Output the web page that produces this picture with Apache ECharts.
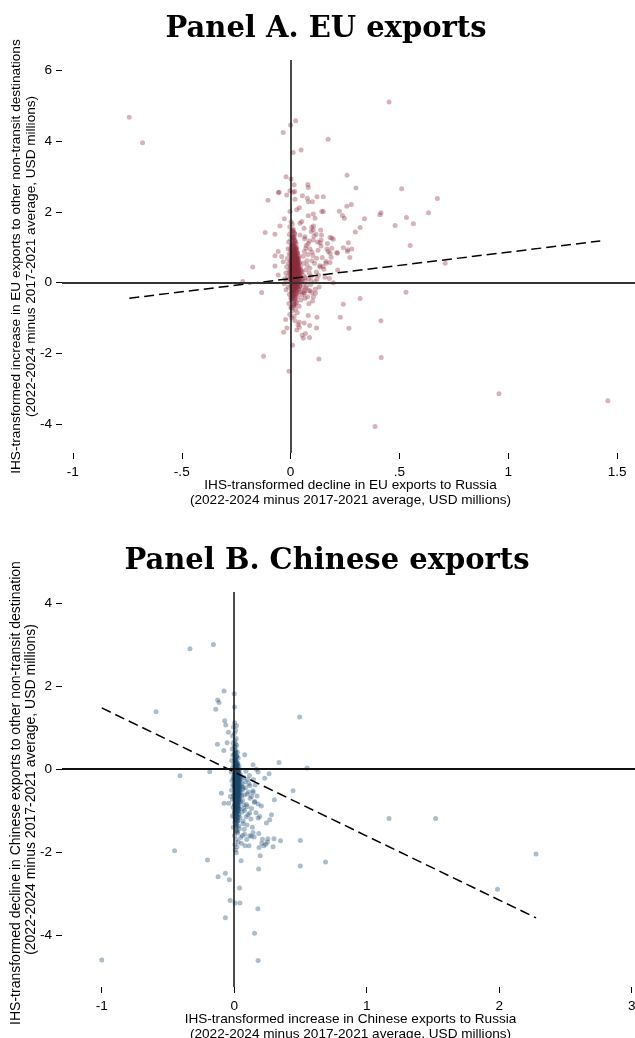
<!DOCTYPE html>
<html>
<head>
<meta charset="utf-8">
<script src="https://cdn.jsdelivr.net/npm/echarts@6/dist/echarts.min.js"></script>
<style>
  html, body { margin: 0; padding: 0; background: #fff; overflow: hidden; }
  body { width: 635px; height: 1038px; position: relative; }
  #panelA { position: absolute; left: 0; top: 0; width: 640px; height: 1038px; }
  #panelB { position: absolute; left: 0; top: 562px; width: 640px; height: 476px; }
</style>
</head>
<body>
<div id="panelA"></div>
<div id="panelB"></div>
<script>
// ---------- Panel A: EU exports ----------
const xTicksA = [-1, -0.5, 0, 0.5, 1, 1.5];
const xTickLabelsA = ['-1', '-.5', '0', '.5', '1', '1.5'];
const yTicksA = [-4, -2, 0, 2, 4, 6];
const yTickLabelsA = ['-4', '-2', '0', '2', '4', '6'];

// [decline in exports to Russia, increase in exports to other destinations]
const euOutliers = [
  [-0.741,4.68],[-0.680,3.96],[-0.034,4.25],[0.023,4.58],[0.000,4.46],[0.012,3.68],[0.048,3.75],[-0.021,3.00],
  [0.002,2.93],[-0.056,2.55],[-0.104,2.33],[-0.117,1.42],[-0.174,0.44],[-0.220,0.03],[-0.133,-0.28],
  [0.452,5.11],[0.172,4.06],[0.259,3.04],[0.300,2.68],[0.510,2.66],[0.674,2.38],[0.633,1.98],[0.532,1.84],
  [0.564,1.67],[0.480,1.62],[0.410,1.92],[0.415,1.98],[0.339,1.81],[0.279,2.21],[0.258,2.16],[0.224,2.02],
  [0.238,1.90],[0.247,1.82],[0.319,1.56],[0.297,1.43],[0.549,1.05],[0.710,0.55],[0.265,1.13],[0.242,0.99],
  [0.281,0.95],[0.272,0.71],[0.189,1.26],[0.196,1.23],[0.212,0.85],[0.181,0.83],[0.216,0.36],[0.178,0.12],
  [0.196,0.00],[0.530,-0.27],[0.319,-0.45],[0.242,-0.61],
  [0.079,2.78],[0.081,2.69],[0.121,2.43],[0.150,2.43],[0.081,2.29],[0.100,2.29],[0.054,2.46],[0.143,2.01],
  [0.016,2.77],[0.019,2.58],[0.040,2.12],[0.043,1.68],
  [0.228,-0.98],[0.415,-1.08],[0.268,-1.29],[0.121,-0.98],[0.081,-0.93],[0.087,-1.21],[0.062,-1.14],[0.040,-1.12],
  [0.034,-1.19],[0.119,-1.28],[0.053,-1.49],[0.068,-1.44],[0.087,-1.55],[-0.023,-1.04],[-0.032,-1.40],[-0.017,-1.28],
  [0.009,-1.77],[-0.124,-2.08],[0.130,-2.16],[0.416,-2.12],[-0.008,-2.51],[0.957,-3.14],[1.457,-3.34],[0.388,-4.07],
  [-0.053,2.56],[-0.018,2.48],[0.012,2.56],[-0.003,2.60],[0.020,2.36],[0.077,2.39],[0.028,2.06],[-0.003,2.01],
  [0.104,1.94],[0.081,1.89],[0.112,1.82],[0.150,2.01],[-0.029,1.81],[-0.049,1.60],[-0.072,1.37],
  [0.051,1.73],[0.062,1.54],[0.043,1.35],[0.066,1.30],[0.097,1.57],[0.104,1.49],[0.117,1.37],[0.138,1.49],
  [0.140,1.21],[0.104,1.21],[0.081,1.11],[0.181,1.28],[0.135,1.13],[0.169,1.11],[0.189,0.97],[0.173,0.88],
  [0.215,0.83],[0.262,0.93],
  [0.020,-1.08],[0.040,-1.26],[0.028,-1.34],[0.058,-1.57],[0.104,-0.40],[0.097,-0.28],[0.089,-0.23],[0.114,-0.19],
  [0.066,-0.44],[0.062,-0.30],[0.261,0.88],[0.186,0.72],[0.163,0.55],[0.181,0.57],[0.135,0.44],
  [-0.072,0.47],[-0.057,0.22],[-0.034,0.59],[-0.041,0.74],[-0.072,0.76],[-0.057,0.88]
];

const euCluster = [
  [0.002,1.72],[0.008,1.65],[-0.004,1.58],[0.012,1.51],[0.003,1.46],[0.018,1.40],[-0.006,1.36],[0.006,1.31],
  [0.014,1.27],[0.001,1.22],[0.021,1.18],[-0.009,1.15],[0.009,1.11],[0.016,1.06],[0.004,1.02],[0.026,0.99],
  [-0.012,0.96],[0.011,0.93],[0.019,0.90],[0.002,0.87],[0.031,0.84],[-0.007,0.81],[0.014,0.78],[0.024,0.76],
  [0.005,0.73],[0.036,0.70],[-0.015,0.68],[0.009,0.66],[0.020,0.63],[0.028,0.61],[0.001,0.59],[0.041,0.57],
  [-0.010,0.55],[0.016,0.53],[0.033,0.51],[0.006,0.49],[0.024,0.47],[-0.018,0.45],[0.046,0.44],[0.012,0.42],
  [0.029,0.40],[0.003,0.38],[0.038,0.37],[-0.008,0.35],[0.019,0.33],[0.052,0.32],[0.008,0.30],[0.027,0.28],
  [-0.022,0.27],[0.043,0.25],[0.014,0.24],[0.034,0.22],[0.001,0.21],[0.060,0.20],[-0.013,0.18],[0.022,0.17],
  [0.048,0.15],[0.007,0.14],[0.031,0.12],[-0.026,0.11],[0.055,0.10],[0.017,0.09],[0.039,0.07],[0.003,0.06],
  [0.067,0.05],[-0.017,0.04],[0.026,0.03],[0.045,0.01],[0.010,0.00],[0.034,-0.02],[-0.030,-0.03],[0.058,-0.04],
  [0.019,-0.06],[0.041,-0.07],[0.002,-0.09],[0.072,-0.10],[-0.011,-0.12],[0.028,-0.13],[0.050,-0.15],[0.009,-0.17],
  [0.036,-0.19],[-0.021,-0.20],[0.063,-0.22],[0.015,-0.24],[0.044,-0.26],[0.004,-0.28],[0.025,-0.30],[-0.006,-0.33],
  [0.053,-0.35],[0.012,-0.37],[0.033,-0.40],[0.001,-0.43],[0.020,-0.46],[0.047,-0.49],[0.006,-0.52],[0.028,-0.56],
  [-0.008,-0.59],[0.014,-0.63],[0.039,-0.67],[0.003,-0.71],[0.022,-0.75],[0.009,-0.80],[0.031,-0.85],[-0.004,-0.90],
  [0.016,-0.95],[0.005,-1.00],
  [0.005,0.52],[0.021,0.36],[0.011,0.19],[0.032,0.08],[0.015,-0.01],[0.007,-0.14],[0.024,-0.21],[0.040,0.16],
  [0.018,0.27],[0.003,0.43],[0.029,0.55],[0.012,0.68],[0.035,0.31],[0.008,0.11],[0.026,-0.08],[0.013,-0.32],
  [0.044,0.04],[0.020,0.48],[0.001,0.62],[0.037,0.43],[0.016,0.15],[0.010,-0.04],[0.030,0.20],[0.023,0.71],
  [0.006,0.25],[0.049,0.28],[0.017,-0.18],[0.004,0.34],[0.027,0.13],[0.042,-0.11],[0.013,0.58],[0.035,0.64],
  [0.009,0.83],[0.022,0.95],[0.003,1.08],[0.018,1.21],[0.030,0.86],[0.011,0.39],[0.038,-0.27],[0.021,-0.42],
  [0.015,-0.65],[0.032,0.02],[0.007,0.70],[0.025,0.41],[0.046,0.35],[0.002,0.16],[0.019,0.06],[0.036,0.50],
  [0.012,-0.24],[0.028,0.25],[0.051,0.06],[-0.003,0.29],[0.016,0.45],[0.040,0.23],[0.024,0.10],[0.008,-0.06],
  [0.033,0.37],[0.011,0.27],[0.027,0.60],[0.004,0.09],[0.020,0.22],[0.043,0.12],[0.014,0.34],[0.031,-0.15],
  [0.006,-0.36],[0.023,0.00],[0.017,0.80],[0.038,0.75],[0.010,1.00],[0.026,1.10],
  [0.004,0.05],[0.013,0.12],[0.021,0.02],[0.009,0.22],[0.017,0.31],[0.002,0.40],[0.026,0.18],[0.011,-0.02],
  [0.019,0.44],[0.006,0.57],[0.031,0.33],[0.014,0.65],[0.023,0.08],[0.001,0.26],[0.028,-0.05],[0.010,0.50],
  [0.035,0.14],[0.016,0.37],[0.005,0.72],[0.024,0.58],[0.012,-0.10],[0.029,0.45],[0.003,0.15],[0.020,0.28],
  [0.008,0.84],[0.033,0.62],[0.015,0.04],[0.000,0.48],[0.025,0.38],[0.011,0.92],[0.018,-0.22],[0.007,0.33],
  [0.037,0.05],[0.013,0.75],[0.022,0.51],[-0.002,0.10],[0.030,0.26],[0.016,0.63],[0.006,-0.30],[0.027,0.70],
  [0.010,0.16],[0.019,1.02],[0.004,0.61],[0.032,-0.12],[0.015,0.47],[0.023,0.35],[0.009,-0.45],[0.039,0.30],
  [0.017,0.88],[0.001,0.78],[0.026,-0.25],[0.012,0.31],[0.021,1.15],[0.007,0.44],[0.034,0.52],[0.014,-0.38],
  [0.003,0.97],[0.028,0.09],[0.018,0.19],[0.010,1.25],[0.024,-0.52],[0.005,-0.18],[0.031,0.80],[0.016,-0.60],
  [0.008,1.35],[0.020,0.67],[0.013,1.45],[0.027,0.42],[0.002,-0.70],[0.036,0.21],[0.011,0.07],[0.022,-0.35],
  [0.006,0.39],[0.029,0.57],[0.017,0.24],[0.009,1.18],[0.040,0.40],[0.014,0.83],[0.025,0.29],[0.003,0.53],
  [0.019,-0.08],[0.032,0.46],[0.008,0.02],[0.015,0.69],[0.023,0.96],[0.001,0.34],[0.028,0.13],[0.012,0.55],
  [0.036,-0.03],[0.018,0.41],[0.005,0.90],[0.021,0.23],[0.010,-0.27],[0.030,0.66],[0.016,0.11],[0.007,1.07],
  [0.026,0.49],[0.013,0.29],[0.003,-0.48],[0.034,0.36],[0.020,0.74],[0.009,0.60],[0.024,-0.15],[0.015,0.20],
  [0.038,0.55],[0.011,0.45],[0.019,0.87],[0.006,0.07],[0.029,0.32],[0.017,1.30],
  [0.007,0.18],[0.016,0.09],[0.024,0.26],[0.003,0.31],[0.012,0.47],[0.028,0.36],[0.019,0.55],[0.009,0.03],
  [0.031,0.15],[0.014,0.22],[0.005,0.64],[0.022,0.43],[0.011,0.79],[0.027,0.06],[0.017,0.34],[0.001,0.12],
  [0.033,0.27],[0.020,0.61],[0.008,0.40],[0.025,0.92],[0.013,-0.03],[0.004,0.50],[0.029,0.72],[0.018,0.17],
  [0.010,0.70],[0.035,0.40],[0.021,-0.12],[0.006,0.82],[0.015,0.56],[0.026,0.21],[0.012,1.05],[0.002,0.23],
  [0.030,-0.02],[0.019,0.77],[0.008,0.46],[0.023,0.33],[0.014,-0.20],[0.038,0.18],[0.010,0.58],[0.027,0.52],
  [0.005,-0.08],[0.017,0.98],[0.032,0.69],[0.013,0.37],[0.021,0.14],[0.003,0.68],[0.025,-0.32],[0.016,1.12],
  [0.009,0.26],[0.034,0.09],[0.019,0.49],[0.006,-0.40],[0.028,0.85],[0.012,0.16],[0.022,0.62],[0.001,0.93],
  [0.036,0.32],[0.015,-0.50],[0.024,0.04],[0.010,0.35],[0.018,1.38],[0.007,0.76],[0.031,0.44],[0.014,0.01],
  [0.026,0.66],[0.004,-0.22],[0.020,0.38],[0.011,1.28],[0.029,0.24],[0.016,-0.13],[0.008,0.54],[0.023,0.81],
  [0.013,0.19],[0.033,0.58],[0.002,0.45],[0.021,-0.62],[0.017,0.07],[0.027,0.97],[0.009,1.48],[0.015,0.30],
  [0.075,0.62],[0.088,0.41],[0.063,0.88],[0.095,0.18],[0.081,-0.22],[0.110,0.55],[0.072,1.05],[0.102,0.77],
  [0.092,-0.05],[0.118,0.30],[0.069,0.36],[0.085,1.18],[0.126,0.92],[0.078,-0.40],[0.098,0.62],[0.134,0.48],
  [0.066,0.14],[0.107,1.32],[0.145,0.71],[0.089,0.95],[0.059,0.55],[0.121,0.10],[0.079,0.80],[0.153,0.38],
  [0.095,1.45],[0.070,-0.15],[0.114,-0.30],[0.140,1.04],[0.162,0.60],[0.086,0.27],[0.101,-0.52],[0.128,0.21],
  [0.167,0.95],[0.058,0.75],[0.093,0.05],[0.076,0.49],[0.119,0.69],[0.105,1.60],[0.142,1.35],[0.061,-0.28],
  [0.084,-0.60],[0.131,-0.12],[0.070,0.97],[0.112,0.03],[0.158,0.15],[0.064,1.24],[0.098,0.87],[0.149,0.46],
  [0.082,0.12],[0.124,1.15]
];

// fitted regression line (end points)
const euFit = [[-0.741, -0.44], [1.422, 1.18]];

// ---------- Panel B: Chinese exports ----------
const xTicksB = [-1, 0, 1, 2, 3];
const xTickLabelsB = ['-1', '0', '1', '2', '3'];
const yTicksB = [-4, -2, 0, 2, 4];
const yTickLabelsB = ['-4', '-2', '0', '2', '4'];

const cnOutliers = [
  [-0.334,2.91],[-0.157,3.01],[-0.077,1.89],[-0.125,1.67],[-0.115,1.61],[-0.140,1.45],[-0.590,1.39],[0.000,1.82],
  [0.002,1.50],[0.494,1.26],[0.338,0.16],[0.550,0.03],[-0.409,-0.16],[-0.185,-0.06],[-0.127,0.60],[-0.072,1.17],
  [-0.064,1.07],[0.017,1.05],[-0.044,0.89],[-0.054,0.64],[-0.079,0.45],[0.142,0.11],[0.167,0.00],[0.079,0.35],
  [0.180,-0.07],[0.230,-0.22],[0.263,-0.11],[0.303,-0.74],[0.444,-0.52],[1.168,-1.19],[1.520,-1.19],[0.499,-1.72],
  [0.349,-1.73],[0.300,-1.68],[0.254,-1.68],[0.239,-1.81],[0.208,-1.79],
  [-0.450,-1.97],[-0.202,-2.19],[0.052,-2.21],[0.196,-2.09],[0.689,-2.24],[0.499,-2.34],[0.184,-2.41],[2.278,-2.05],
  [1.987,-2.90],[-0.067,-2.51],[-0.122,-2.60],[-0.037,-2.67],[0.040,-2.87],[-0.031,-3.17],[0.006,-3.23],[0.043,-3.23],
  [0.178,-3.37],[-0.067,-3.59],[0.153,-3.96],[0.180,-4.62],[-1.000,-4.61],
  [-0.097,-0.58],[-0.077,-0.82],[-0.042,-0.82],[-0.029,-0.66],[0.180,-0.84],[0.205,-0.89],[0.155,-0.78],[0.130,-0.66],
  [0.142,-0.56],[0.281,-1.10],[0.268,-1.22],[0.243,-1.30],[0.192,-1.14],[0.180,-1.18],[0.117,-1.06],[0.142,-1.53],
  [0.185,-1.55],[0.117,-1.61],[0.150,-1.64],[0.079,-1.57],[0.213,-1.69],[0.250,-1.76],[0.187,-1.89],[0.223,-1.85],
  [0.293,-1.87],[0.054,-1.79]
];

const cnCluster = [
  [0.003,1.12],[-0.006,1.02],[0.010,0.94],[0.001,0.86],[-0.012,0.80],[0.015,0.74],[0.004,0.69],[-0.008,0.63],
  [0.019,0.58],[0.007,0.53],[-0.015,0.49],[0.012,0.45],[0.024,0.41],[0.000,0.37],[-0.010,0.34],[0.017,0.30],
  [0.030,0.27],[0.005,0.24],[-0.019,0.21],[0.013,0.18],[0.027,0.15],[-0.004,0.12],[0.021,0.10],[0.036,0.07],
  [0.008,0.05],[-0.014,0.03],[0.016,0.01],[0.041,-0.01],[0.002,-0.03],[0.025,-0.05],[-0.023,-0.07],[0.011,-0.09],
  [0.034,-0.11],[0.047,-0.13],[0.006,-0.15],[0.020,-0.17],[-0.008,-0.19],[0.029,-0.21],[0.053,-0.23],[0.014,-0.25],
  [-0.017,-0.27],[0.038,-0.29],[0.003,-0.31],[0.023,-0.33],[0.060,-0.35],[0.010,-0.37],[-0.011,-0.39],[0.031,-0.41],
  [0.045,-0.43],[0.001,-0.45],[0.018,-0.47],[0.066,-0.49],[-0.020,-0.51],[0.027,-0.53],[0.008,-0.55],[0.040,-0.57],
  [0.015,-0.60],[-0.006,-0.62],[0.056,-0.64],[0.022,-0.66],[0.004,-0.69],[0.034,-0.71],[-0.014,-0.73],[0.012,-0.76],
  [0.048,-0.78],[0.026,-0.81],[0.002,-0.84],[0.071,-0.86],[0.017,-0.89],[-0.009,-0.92],[0.038,-0.95],[0.009,-0.98],
  [0.027,-1.01],[0.058,-1.04],[0.001,-1.07],[0.020,-1.10],[-0.013,-1.13],[0.043,-1.16],[0.011,-1.20],[0.031,-1.24],
  [0.004,-1.28],[0.066,-1.32],[0.018,-1.36],[-0.007,-1.40],[0.037,-1.44],[0.009,-1.49],[0.025,-1.54],[0.002,-1.60],
  [0.048,-1.65],[0.014,-1.70],[0.030,-1.76],[0.005,-1.82],[0.021,-1.88],[0.008,-1.95],[0.016,-2.02],
  [0.008,-0.20],[0.019,-0.35],[0.004,-0.08],[0.027,-0.45],[0.012,-0.58],[0.035,-0.26],[0.002,-0.52],[0.022,-0.68],
  [0.015,0.08],[0.030,-0.14],[0.006,-0.40],[0.041,-0.50],[0.017,-0.80],[0.010,0.20],[0.025,0.02],[-0.003,-0.25],
  [0.033,-0.62],[0.013,-0.95],[0.020,-0.30],[0.045,-0.18],[0.007,-0.70],[0.028,-0.88],[0.016,-0.12],[0.003,0.28],
  [0.036,-0.38],[0.011,-0.46],[0.024,-0.75],[0.050,-0.55],[0.009,0.00],[0.019,-1.05],[0.032,-0.05],[0.005,-0.85],
  [0.038,-0.80],[0.014,-0.33],[0.026,0.12],[0.001,-0.62],[0.043,-0.30],[0.018,-0.54],[0.029,-1.15],[0.012,0.40],
  [0.034,-0.96],[0.007,-1.22],[0.023,-0.22],[0.015,-0.42],[0.039,-0.66],[0.004,0.15],[0.021,-0.90],[0.055,-0.40],
  [0.010,-0.28],[0.031,-0.72],
  [0.004,-0.10],[0.013,-0.22],[0.021,-0.05],[0.009,-0.38],[0.017,-0.47],[0.002,-0.15],[0.026,-0.30],[0.011,-0.60],
  [0.019,-0.12],[0.006,-0.52],[0.031,-0.40],[0.014,-0.70],[0.023,-0.18],[0.001,-0.35],[0.028,-0.62],[0.010,-0.08],
  [0.035,-0.25],[0.016,-0.82],[0.005,-0.45],[0.024,-0.55],[0.012,0.02],[0.029,-0.78],[0.003,-0.28],[0.020,-0.42],
  [0.008,-0.90],[0.033,-0.15],[0.015,-0.58],[0.000,-0.20],[0.025,-0.92],[0.011,-0.33],[0.018,0.10],[0.007,-0.65],
  [0.037,-0.48],[0.013,-1.00],[0.022,-0.27],[-0.002,-0.40],[0.030,-0.08],[0.016,-0.37],[0.006,0.05],[0.027,-0.70],
  [0.010,-0.75],[0.019,-1.12],[0.004,-0.58],[0.032,-0.32],[0.015,-0.16],[0.023,-0.85],[0.009,0.22],[0.039,-0.60],
  [0.017,-0.98],[0.001,-0.72],[0.026,-0.02],[0.012,-0.48],[0.021,-1.25],[0.007,-0.23],[0.034,-0.86],[0.014,0.15],
  [0.003,-0.96],[0.028,-0.44],[0.018,-0.64],[0.010,-1.30],[0.024,0.08],[0.005,-0.32],[0.031,-1.02],[0.016,0.30],
  [0.008,-1.18],[0.020,-0.52],[0.013,-1.40],[0.027,-0.20],[0.002,0.35],[0.036,-0.74],[0.011,-0.12],[0.022,-0.66],
  [0.006,-0.80],[0.029,-0.35],[0.017,-0.26],[0.009,-1.08],[0.040,-0.22],[0.014,-0.90],[0.025,-0.48],[0.003,0.45],
  [0.019,-0.76],[0.032,-0.56],[0.008,-0.44],[0.015,-1.22],[0.023,-0.10],[0.001,0.55],[0.028,-0.96],[0.012,-0.30],
  [0.036,-0.40],[0.018,-0.04],
  [0.007,-0.18],[0.016,-0.09],[0.024,-0.36],[0.003,-0.41],[0.012,-0.27],[0.028,-0.56],[0.019,-0.65],[0.009,-0.03],
  [0.031,-0.25],[0.014,-0.12],[0.005,-0.74],[0.022,-0.43],[0.011,-0.89],[0.027,-0.16],[0.017,-0.54],[0.001,-0.12],
  [0.033,-0.47],[0.020,-0.81],[0.008,-0.50],[0.025,-1.02],[0.013,0.03],[0.004,-0.60],[0.029,-0.52],[0.018,-0.37],
  [0.010,-0.68],[0.035,-0.30],[0.021,0.02],[0.006,-1.02],[0.015,-0.76],[0.026,-0.41],[0.012,-1.15],[0.002,-0.23],
  [0.030,-0.92],[0.019,-0.87],[0.008,-0.36],[0.023,-0.63],[0.014,0.20],[0.038,-0.68],[0.010,-0.48],[0.027,-0.82],
  [0.005,0.08],[0.017,-1.08],[0.032,-0.19],[0.013,-0.67],[0.021,-0.34],[0.003,-0.88],[0.025,-0.28],[0.016,-1.32],
  [0.009,-0.26],[0.034,-1.09],[0.019,-0.49],[0.006,0.40],[0.028,-0.05],[0.012,-0.86],[0.022,-0.92],[0.001,-1.03],
  [0.036,-0.12],[0.015,-0.50],[0.024,-0.64],[0.010,-0.15],[0.018,-1.48],[0.007,-0.36],[0.031,-0.64],[0.014,-0.41],
  [0.026,-1.26],[0.004,0.22],[0.020,-0.18],[0.011,-1.38],[0.029,-0.44],[0.016,0.13],[0.008,-0.64],[0.023,-1.51],
  [0.013,-0.19],[0.033,-1.38],[0.002,-1.15],[0.021,0.32],[0.017,-0.07],[0.027,-1.17],[0.009,0.62],[0.015,-0.30],
  [0.072,-0.20],[0.085,-0.45],[0.063,-0.75],[0.098,-0.60],[0.078,-1.00],[0.110,-0.35],[0.092,-0.85],[0.068,-1.25],
  [0.120,-0.70],[0.104,-1.10],[0.083,-0.30],[0.131,-0.95],[0.075,-1.45],[0.115,-0.15],[0.142,-0.52],[0.096,-1.35],
  [0.061,-1.60],[0.126,-1.20],[0.088,-0.05],[0.152,-0.80],[0.107,-0.55],[0.070,-0.95],[0.137,-1.40],[0.094,-1.70],
  [0.118,-0.40],[0.164,-1.05],[0.081,-1.85],[0.102,-0.25],[0.145,-0.25],[0.077,-0.62],[0.128,-1.62],[0.158,-0.38],
  [0.090,-1.15],[0.112,-1.85],[0.066,-0.45],[0.172,-0.65],[0.099,-0.90]
];

const cnFit = [[-1.0, 1.48], [2.278, -3.59]];

// ---------- shared styling ----------
const SANS = '"Liberation Sans", Arial, sans-serif';
const AXIS_FONT = 13.6;

function tickLabel(ticks, labels) {
  return function (v) {
    for (let i = 0; i < ticks.length; i++) {
      if (Math.abs(ticks[i] - v) < 1e-9) return labels[i];
    }
    return '';
  };
}

function xAxisCfg(min, max, ticks, labels, name) {
  return {
    type: 'value', min: min, max: max,
    axisLine: { show: false, onZero: false },
    splitLine: { show: false },
    axisTick: { show: true, length: 6, customValues: ticks, lineStyle: { color: '#000', width: 1 } },
    axisLabel: { customValues: ticks, formatter: tickLabel(ticks, labels), margin: 12,
                 color: '#000', fontSize: AXIS_FONT, fontFamily: SANS },
    name: name, nameLocation: 'middle', nameGap: 25, nameMoveOverlap: false,
    nameTextStyle: { color: '#000', fontSize: AXIS_FONT, fontFamily: SANS, lineHeight: 14.5 }
  };
}

function yAxisCfg(min, max, ticks, labels, name, nameSize) {
  return {
    type: 'value', min: min, max: max,
    axisLine: { show: false, onZero: false },
    splitLine: { show: false },
    axisTick: { show: true, length: 6, customValues: ticks, lineStyle: { color: '#000', width: 1 } },
    axisLabel: { customValues: ticks, formatter: tickLabel(ticks, labels), margin: 10,
                 color: '#000', fontSize: AXIS_FONT, fontFamily: SANS },
    name: name, nameLocation: 'middle', nameGap: 23, nameMoveOverlap: false,
    nameTextStyle: { color: '#000', fontSize: nameSize, fontFamily: SANS, lineHeight: 15.5 }
  };
}

function panelSeries(points, fit, color, hLineColor) {
  return [
    { // zero reference lines
      type: 'scatter', data: [], silent: true, z: 1,
      markLine: {
        symbol: 'none', silent: true, animation: false, label: { show: false },
        data: [
          { xAxis: 0, lineStyle: { color: '#111', width: 1.5, type: 'solid' } },
          { yAxis: 0, lineStyle: { color: hLineColor, width: 1.8, type: 'solid' } }
        ]
      }
    },
    {
      type: 'scatter', data: points, symbolSize: 5, silent: true, z: 2,
      itemStyle: { color: color, opacity: 0.36 }
    },
    {
      type: 'line', data: fit, symbol: 'none', silent: true, z: 3,
      lineStyle: { color: '#000', width: 1.5, type: [10, 5] }
    }
  ];
}

// ---------- Panel A chart (also carries both panel titles) ----------
const chartA = echarts.init(document.getElementById('panelA'), null, { renderer: 'canvas' });
chartA.setOption({
  animation: false,
  backgroundColor: '#fff',
  graphic: [
    { type: 'text', x: 326, y: 29, silent: true,
      style: { text: 'Panel A. EU exports', fill: '#000', fontSize: 29, fontWeight: 'bold',
               fontFamily: '"DejaVu Serif", serif', align: 'center', verticalAlign: 'middle' } },
    { type: 'text', x: 327, y: 561, silent: true,
      style: { text: 'Panel B. Chinese exports', fill: '#000', fontSize: 29, fontWeight: 'bold',
               fontFamily: '"DejaVu Serif", serif', align: 'center', verticalAlign: 'middle' } }
  ],
  grid: { left: 62, right: 1, top: 60, bottom: 585, containLabel: false, outerBoundsMode: 'none' },
  xAxis: xAxisCfg(-1.05, 1.6, xTicksA, xTickLabelsA,
    'IHS-transformed decline in EU exports to Russia\n(2022-2024 minus 2017-2021 average, USD millions)'),
  yAxis: yAxisCfg(-4.82, 6.3, yTicksA, yTickLabelsA,
    'IHS-transformed increase in EU exports to other non-transit destinations\n(2022-2024 minus 2017-2021 average, USD millions)', 13.6),
  series: panelSeries(euOutliers.concat(euCluster), euFit, 'rgb(140,45,60)', '#333')
});

// ---------- Panel B chart ----------
const chartB = echarts.init(document.getElementById('panelB'), null, { renderer: 'canvas' });
chartB.setOption({
  animation: false,
  grid: { left: 62, right: 1, top: 30, bottom: 51, containLabel: false, outerBoundsMode: 'none' },
  xAxis: xAxisCfg(-1.3, 3.055, xTicksB, xTickLabelsB,
    'IHS-transformed increase in Chinese exports to Russia\n(2022-2024 minus 2017-2021 average, USD millions)'),
  yAxis: yAxisCfg(-5.26, 4.28, yTicksB, yTickLabelsB,
    'IHS-transformed decline in Chinese exports to other non-transit destinations\n(2022-2024 minus 2017-2021 average, USD millions)', 14),
  series: panelSeries(cnOutliers.concat(cnCluster), cnFit, 'rgb(26,71,111)', '#111')
});
</script>
</body>
</html>
